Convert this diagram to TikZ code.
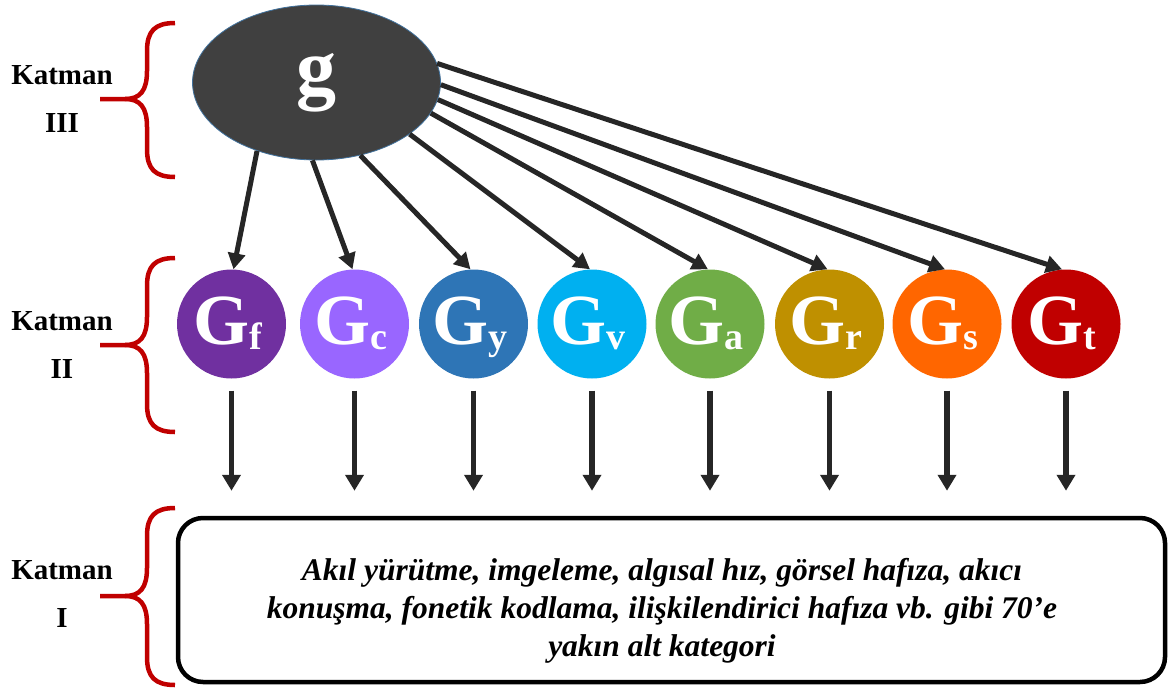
\documentclass[tikz,border=0pt]{standalone}
\usepackage{fontspec}
\setmainfont{Liberation Serif}
\usetikzlibrary{shapes.geometric,arrows.meta,calc}
\definecolor{gdark}{HTML}{404040}
\definecolor{gborder}{HTML}{41719C}
\definecolor{arrowc}{HTML}{262626}
\definecolor{bracec}{HTML}{C00000}
\definecolor{cf}{HTML}{7030A0}
\definecolor{cc}{HTML}{9966FF}
\definecolor{cy}{HTML}{2E75B6}
\definecolor{cv}{HTML}{00B0F0}
\definecolor{ca}{HTML}{70AD47}
\definecolor{cr}{HTML}{BF9000}
\definecolor{cs}{HTML}{FF6600}
\definecolor{ct}{HTML}{C00000}
\newcommand{\gsym}[1]{{\fontsize{72}{72}\selectfont G}{\fontsize{38}{38}\selectfont\raisebox{-5pt}{#1}}\kern8pt}
\begin{document}
\begin{tikzpicture}[x=1pt,y=-1pt,
  conn/.style={draw=arrowc, line width=5pt, -{Triangle[length=16pt,width=17pt]}},
  vconn/.style={draw=arrowc, line width=5.5pt, -{Triangle[length=16pt,width=18pt]}},
  bracepath/.style={draw=bracec, line width=4.5pt},
  lab/.style={font=\fontsize{29}{48}\selectfont\bfseries, align=center, inner sep=0pt},
  gnode/.style={circle, minimum size=109pt, inner sep=0pt, text=white, font=\bfseries, text height=48pt, text depth=8pt},
  boxstyle/.style={draw=black, line width=4.5pt, rounded corners=25pt, minimum width=987pt, minimum height=164pt, inner sep=0pt},
  boxtext/.style={font=\fontsize{31.5}{38}\selectfont\bfseries\itshape, align=center, inner sep=0pt}]
\useasboundingbox (0,0) rectangle (1169,688);

% top ellipse
\node[ellipse, minimum width=248pt, minimum height=155pt, fill=gdark, draw=gborder, line width=0.8pt, inner sep=0pt, text=white, font=\fontsize{80}{80}\selectfont\bfseries] (g) at (316.5,82.5) {\raisebox{-10pt}{g}};

% level II circles
\node[gnode, fill=cf] (Gf) at (231.5,324) {\gsym{f}};
\node[gnode, fill=cc] (Gc) at (354.5,324) {\gsym{c}};
\node[gnode, fill=cy] (Gy) at (473.5,324) {\gsym{y}};
\node[gnode, fill=cv] (Gv) at (592,324) {\gsym{v}};
\node[gnode, fill=ca] (Ga) at (710,324) {\gsym{a}};
\node[gnode, fill=cr] (Gr) at (829.5,324) {\gsym{r}};
\node[gnode, fill=cs] (Gs) at (947,324) {\gsym{s}};
\node[gnode, fill=ct] (Gt) at (1066,324) {\gsym{t}};

% bottom box
\node[boxstyle] (box) at (671.5,600) {};
\node[boxtext] (desc) at (662,611) {Akıl yürütme, imgeleme, algısal hız, görsel hafıza, akıcı\\konuşma, fonetik kodlama, ilişkilendirici hafıza vb. gibi 70’e\\yakın alt kategori};

% arrows from g
\draw[conn] (g.-131) -- ([xshift=2pt]Gf.north);
\draw[conn] (g.-93) -- ([xshift=-2pt]Gc.north);
\draw[conn] (g.-59) -- ([xshift=-3pt]Gy.north);
\draw[conn] (g.-29) -- ([xshift=-2pt]Gv.north);
\draw[conn] (g.-15) -- ([xshift=-2pt]Ga.north);
\draw[conn] (g.-8.7) -- ([xshift=-2pt]Gr.north);
\draw[conn] (g.-1.6) -- ([xshift=-2pt]Gs.north);
\draw[conn] (g.9.9) -- ([xshift=-4pt]Gt.north);

% vertical arrows
\foreach \n in {Gf,Gc,Gy,Gv,Ga,Gr,Gs,Gt}{
  \draw[vconn] ($(\n.south)+(0,12)$) -- ($(\n.south |- box.north)+(0,-25)$);
}

% labels
\node[lab] (k3) at (62,99) {Katman\\III};
\node[lab] (k2) at (62,345) {Katman\\II};
\node[lab] (k1) at (62,594) {Katman\\I};

% braces
\foreach \t/\c/\b in {23/99/177, 258/345/432, 508/596/685}{
  \draw[bracepath] (175,\t) .. controls (155,\t) and (147,\t+8) .. (147,\t+28)
    -- (147,\c-28) .. controls (147,\c-8) and (140,\c) .. (125,\c) -- (100,\c);
  \draw[bracepath] (125,\c) .. controls (140,\c) and (147,\c+8) .. (147,\c+28)
    -- (147,\b-28) .. controls (147,\b-8) and (155,\b) .. (175,\b);
}
\end{tikzpicture}
\end{document}
